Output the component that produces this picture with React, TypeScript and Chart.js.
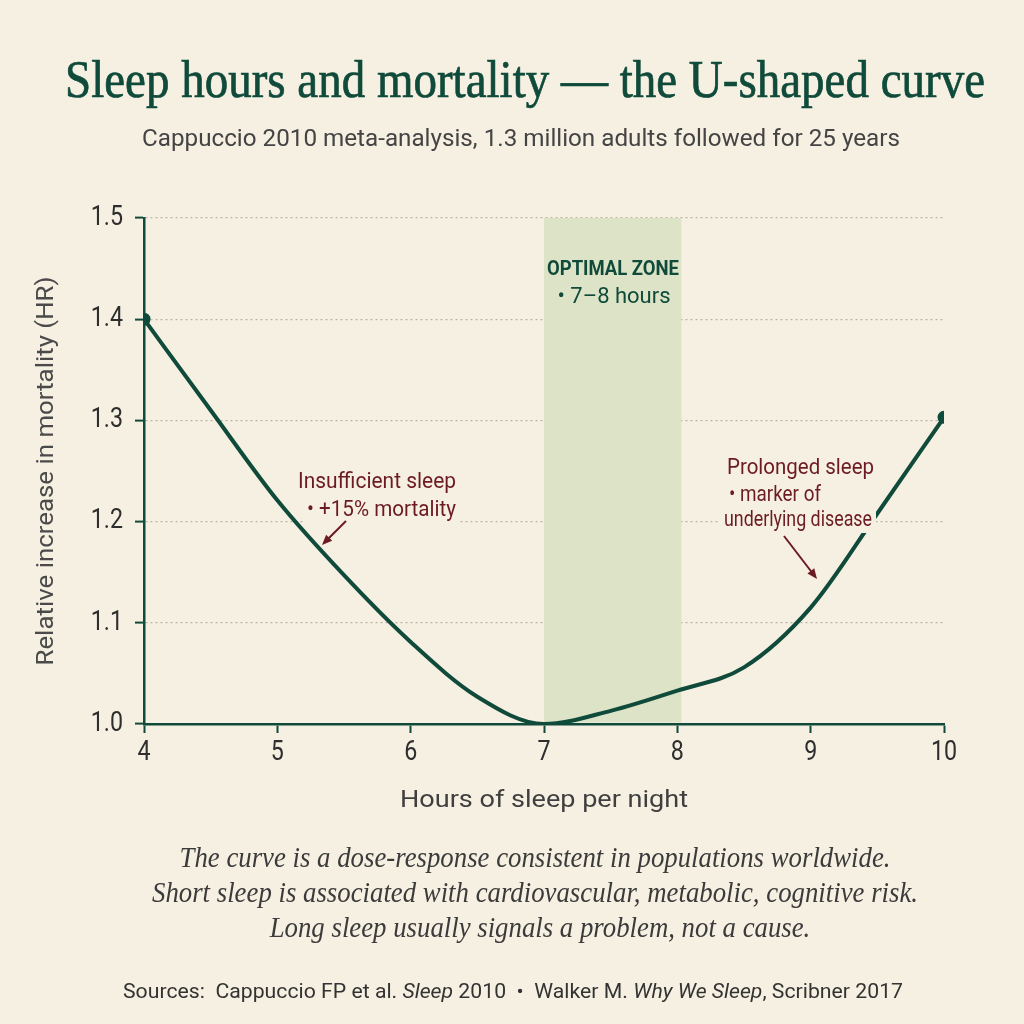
import { useEffect, useRef } from "react";
import { Chart, registerables } from "chart.js";

Chart.register(...registerables);

// hours of sleep and hazard ratio
const hours = [4, 4.5, 5, 5.5, 6, 6.5, 7, 7.5, 8, 8.5, 9, 9.5, 10];
const hazardRatio = [1.4, 1.31, 1.221, 1.147, 1.081, 1.027, 1.0, 1.013, 1.033, 1.056, 1.115, 1.208, 1.303];
const optimalZone = [7, 8];
const yRange = [1.0, 1.5];
const xRange = [4, 10];

const TITLE = "Sleep hours and mortality \u2014 the U-shaped curve";
const SUBTITLE = "Cappuccio 2010 meta-analysis, 1.3 million adults followed for 25 years";
const X_TITLE = "Hours of sleep per night";
const Y_TITLE = "Relative increase in mortality (HR)";
const NOTES = [
  "The curve is a dose-response consistent in populations worldwide.",
  "Short sleep is associated with cardiovascular, metabolic, cognitive risk.",
  "Long sleep usually signals a problem, not a cause.",
];
const SOURCES: [string, boolean][] = [
  ["Sources:  Cappuccio FP et al. ", false],
  ["Sleep", true],
  [" 2010  \u2022  Walker M. ", false],
  ["Why We Sleep", true],
  [", Scribner 2017", false],
];

const BG = "#f6f0e2";
const GREEN = "#0f4a3a";
const RED = "#6c1a23";
const GREY = "#3b3b3b";
const BAND = "#dde3c6";
const SANS = "Roboto, 'Liberation Sans', sans-serif";
const SERIF = "'Liberation Serif', 'DejaVu Serif', serif";
const CONDENSE = 0.86;

type Opts = {
  align?: CanvasTextAlign;
  width?: number;
  scaleX?: number;
  rotate?: number;
  baseline?: CanvasTextBaseline;
};

function drawText(
  ctx: CanvasRenderingContext2D,
  text: string,
  x: number,
  y: number,
  font: string,
  color: string,
  opts: Opts = {}
) {
  ctx.save();
  ctx.font = font;
  const w = ctx.measureText(text).width;
  const sx = opts.width ? opts.width / w : opts.scaleX ?? 1;
  ctx.translate(x, y);
  if (opts.rotate) ctx.rotate(opts.rotate);
  ctx.scale(sx, 1);
  ctx.fillStyle = color;
  ctx.textAlign = opts.align ?? "center";
  ctx.textBaseline = opts.baseline ?? "alphabetic";
  ctx.fillText(text, 0, 0);
  ctx.restore();
  return w * sx;
}

function arrow(ctx: CanvasRenderingContext2D, x1: number, y1: number, x2: number, y2: number) {
  const a = Math.atan2(y2 - y1, x2 - x1);
  ctx.save();
  ctx.strokeStyle = RED;
  ctx.fillStyle = RED;
  ctx.lineWidth = 2;
  ctx.beginPath();
  ctx.moveTo(x1, y1);
  ctx.lineTo(x2 - 6 * Math.cos(a), y2 - 6 * Math.sin(a));
  ctx.stroke();
  ctx.beginPath();
  ctx.moveTo(x2, y2);
  ctx.lineTo(x2 - 11 * Math.cos(a - 0.4), y2 - 11 * Math.sin(a - 0.4));
  ctx.lineTo(x2 - 11 * Math.cos(a + 0.4), y2 - 11 * Math.sin(a + 0.4));
  ctx.closePath();
  ctx.fill();
  ctx.restore();
}

// annotation line: background mask, then the text fitted to a width
function noteLine(
  ctx: CanvasRenderingContext2D,
  text: string,
  x: number,
  y: number,
  width: number,
  align: CanvasTextAlign,
  color: string,
  font: string,
  mask: boolean
) {
  const left = align === "left" ? x : align === "right" ? x - width : x - width / 2;
  if (mask) {
    ctx.save();
    ctx.fillStyle = BG;
    ctx.fillRect(left - 4, y - 12, width + 8, 25);
    ctx.restore();
  }
  drawText(ctx, text, x, y, font, color, { align, width, baseline: "middle" });
}

const decorations = {
  id: "decorations",
  beforeDraw(chart: Chart) {
    const ctx = chart.ctx;
    ctx.save();
    ctx.fillStyle = BG;
    ctx.fillRect(0, 0, chart.width, chart.height);
    ctx.restore();
  },
  beforeDatasetsDraw(chart: Chart) {
    const { ctx, chartArea } = chart;
    const x = chart.scales.x;
    const x0 = x.getPixelForValue(optimalZone[0]);
    const x1 = x.getPixelForValue(optimalZone[1]);
    ctx.save();
    ctx.fillStyle = BAND;
    ctx.fillRect(x0, chartArea.top, x1 - x0 + 4, chartArea.bottom - chartArea.top - 1.5);
    ctx.restore();
  },
  afterDatasetsDraw(chart: Chart) {
    const ctx = chart.ctx;
    const annFont = `22px ${SANS}`;

    // optimal zone label
    noteLine(ctx, "OPTIMAL ZONE", 613, 270, 132, "center", GREEN, `bold 20px ${SANS}`, false);
    noteLine(ctx, "\u2022 7\u20138 hours", 614, 297, 113, "center", GREEN, `22px ${SANS}`, false);

    // insufficient sleep
    noteLine(ctx, "Insufficient sleep", 456, 482, 158, "right", RED, annFont, true);
    noteLine(ctx, "\u2022 +15% mortality", 456, 510, 149, "right", RED, annFont, true);
    arrow(ctx, 346, 521, 322, 545);

    // prolonged sleep
    noteLine(ctx, "Prolonged sleep", 727, 468, 147, "left", RED, annFont, true);
    noteLine(ctx, "\u2022 marker of", 729, 495, 92, "left", RED, annFont, true);
    noteLine(ctx, "underlying disease", 724, 520, 148, "left", RED, annFont, true);
    arrow(ctx, 784, 536, 817, 579);
  },
  afterDraw(chart: Chart) {
    const ctx = chart.ctx;
    const { chartArea } = chart;
    const xs = chart.scales.x;
    const ys = chart.scales.y;

    // tick labels (condensed)
    const tickFont = `27px ${SANS}`;
    ys.ticks.forEach((t) => {
      drawText(ctx, Number(t.value).toFixed(1), 123, ys.getPixelForValue(t.value), tickFont, "#2e2e2e", {
        align: "right",
        baseline: "middle",
        scaleX: CONDENSE,
      });
    });
    xs.ticks.forEach((t) => {
      drawText(ctx, String(t.value), xs.getPixelForValue(t.value), 753, tickFont, "#2e2e2e", {
        baseline: "middle",
        scaleX: CONDENSE,
      });
    });

    // title
    ctx.save();
    ctx.strokeStyle = GREEN;
    ctx.lineWidth = 0.7;
    ctx.font = `52px ${SERIF}`;
    const tw = ctx.measureText(TITLE).width;
    ctx.translate(525, 97);
    ctx.scale(920 / tw, 1);
    ctx.fillStyle = GREEN;
    ctx.textAlign = "center";
    ctx.fillText(TITLE, 0, 0);
    ctx.strokeText(TITLE, 0, 0);
    ctx.restore();

    drawText(ctx, SUBTITLE, 521, 146, `23px ${SANS}`, "#444", { width: 758 });

    // axis titles
    drawText(ctx, X_TITLE, (chartArea.left + chartArea.right) / 2, 807, `24px ${SANS}`, "#3f3f3f", { width: 288 });
    drawText(ctx, Y_TITLE, 53, 471, `23px ${SANS}`, "#4a4a4a", { width: 389, rotate: -Math.PI / 2 });

    // notes
    const noteFont = `italic 29px ${SERIF}`;
    ctx.save();
    ctx.font = noteFont;
    const s = 766 / ctx.measureText(NOTES[1]).width;
    ctx.restore();
    drawText(ctx, NOTES[0], 535, 867, noteFont, GREY, { scaleX: s });
    drawText(ctx, NOTES[1], 535, 902, noteFont, GREY, { scaleX: s });
    drawText(ctx, NOTES[2], 540, 937, noteFont, GREY, { scaleX: s });

    // sources
    ctx.save();
    const fonts = SOURCES.map(([, it]) => `${it ? "italic " : ""}21px ${SANS}`);
    let total = 0;
    SOURCES.forEach(([t], i) => {
      ctx.font = fonts[i];
      total += ctx.measureText(t).width;
    });
    const ss = 780 / total;
    let cx = 513 - (total * ss) / 2;
    SOURCES.forEach(([t], i) => {
      cx += drawText(ctx, t, cx, 998, fonts[i], "#333", { align: "left", scaleX: ss });
    });
    ctx.restore();
  },
};

export default function App() {
  const canvasRef = useRef<HTMLCanvasElement | null>(null);
  const chartRef = useRef<Chart | null>(null);

  useEffect(() => {
    if (!canvasRef.current) return;
    if (chartRef.current) chartRef.current.destroy();

    const points = hours.map((h, i) => ({ x: h, y: hazardRatio[i] }));
    const last = points.length - 1;

    chartRef.current = new Chart(canvasRef.current, {
      type: "line",
      data: {
        datasets: [
          {
            data: points,
            borderColor: GREEN,
            backgroundColor: GREEN,
            borderWidth: 4,
            cubicInterpolationMode: "monotone",
            pointRadius: (c: any) => (c.dataIndex === 0 || c.dataIndex === last ? 4.5 : 0),
            pointHoverRadius: 0,
            borderCapStyle: "round",
            fill: false,
          },
        ],
      },
      options: {
        responsive: false,
        animation: false,
        devicePixelRatio: 1,
        layout: { padding: { top: 218, left: 0, right: 80, bottom: 210 } },
        plugins: {
          legend: { display: false },
          tooltip: { enabled: false },
          title: { display: false },
        },
        scales: {
          x: {
            type: "linear",
            min: xRange[0],
            max: xRange[1],
            afterFit: (scale: any) => {
              scale.height = 90;
            },
            ticks: {
              stepSize: 1,
              autoSkip: false,
              maxRotation: 0,
              color: "rgba(0,0,0,0)",
              font: { family: SANS, size: 22 },
            },
            grid: {
              drawOnChartArea: false,
              drawTicks: true,
              tickLength: 9,
              tickColor: GREEN,
              tickWidth: 2,
            },
            border: { display: true, color: GREEN, width: 2.5 },
          },
          y: {
            type: "linear",
            min: yRange[0],
            max: yRange[1],
            afterFit: (scale: any) => {
              scale.width = 144;
            },
            ticks: {
              stepSize: 0.1,
              color: "rgba(0,0,0,0)",
              font: { family: SANS, size: 22 },
              callback: (v: any) => Number(v).toFixed(1),
            },
            grid: {
              color: (c: any) => (c.tick && Math.abs(c.tick.value - yRange[0]) < 1e-6 ? "rgba(0,0,0,0)" : "#b9b3a2"),
              lineWidth: 1.2,
              drawTicks: true,
              tickLength: 9,
              tickColor: GREEN,
              tickWidth: 2,
              tickBorderDash: [],
            },
            border: { display: true, color: GREEN, width: 2.5, dash: [2, 3] },
          },
        },
      } as any,
      plugins: [decorations],
    });

    return () => {
      if (chartRef.current) {
        chartRef.current.destroy();
        chartRef.current = null;
      }
    };
  }, []);

  return (
    <div style={{ position: "fixed", left: 0, top: 0, width: 1024, height: 1024, background: BG }}>
      <canvas ref={canvasRef} width={1024} height={1024} style={{ display: "block", width: 1024, height: 1024 }} />
    </div>
  );
}
